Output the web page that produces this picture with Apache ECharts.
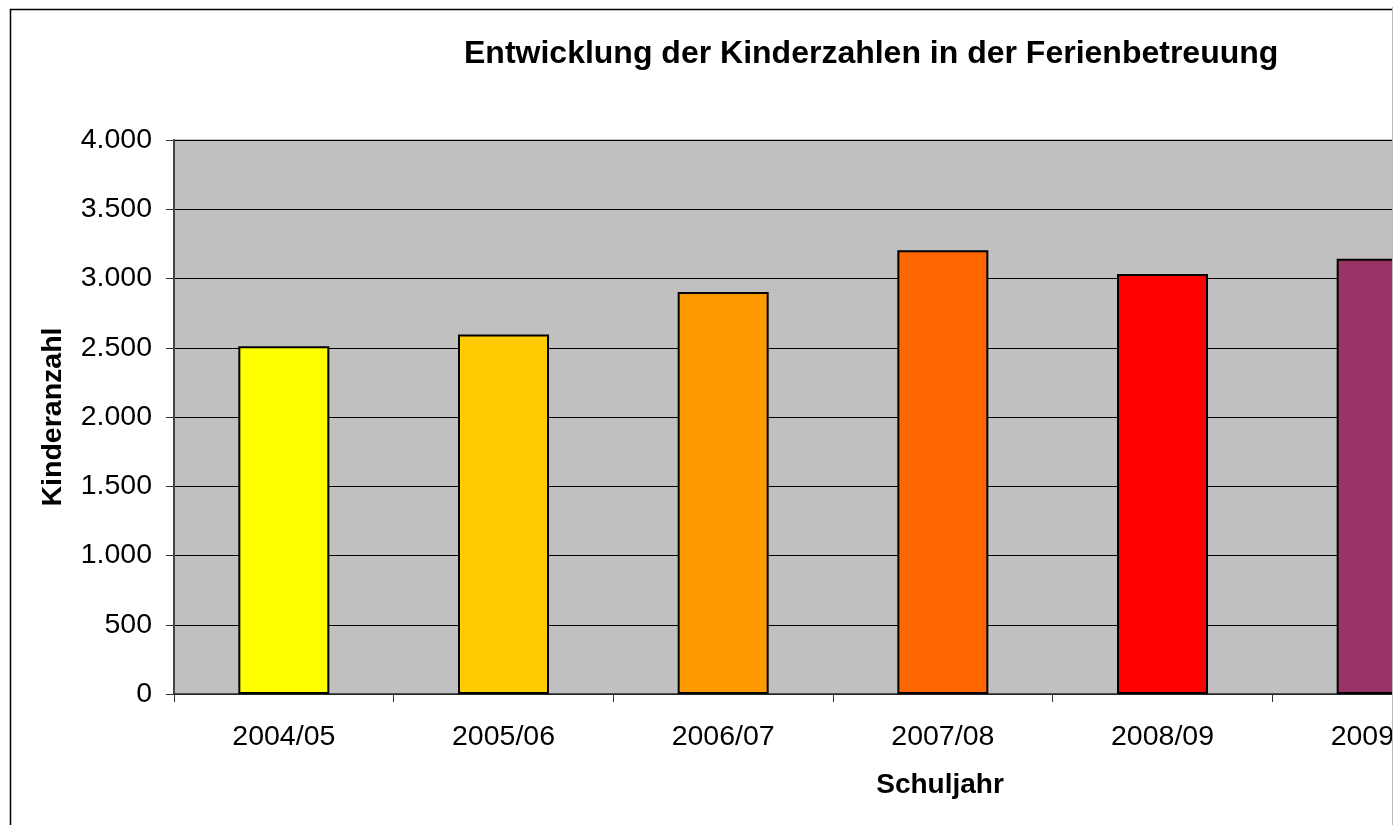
<!DOCTYPE html>
<html>
<head>
<meta charset="utf-8">
<title>Entwicklung der Kinderzahlen in der Ferienbetreuung</title>
<script src="https://cdn.jsdelivr.net/npm/echarts@6/dist/echarts.min.js"></script>
<style>
  html, body { margin: 0; padding: 0; background: #fff; }
  #chart { width: 1393px; height: 825px; }
</style>
</head>
<body>
<div id="chart"></div>
<script>
// Schuljahre und Kinderzahlen
const categories = ["2004/05", "2005/06", "2006/07", "2007/08", "2008/09", "2009/10"];
const kinder = [2511, 2596, 2903, 3204, 3033, 3143];
const barColors = ["#FFFF00", "#FFCC00", "#FF9900", "#FF6600", "#FF0000", "#993366"];
const yMax = 4000;
const yStep = 500;

const font = "Arial, 'Liberation Sans', sans-serif";

// deutsche Tausendertrennung: 4000 -> 4.000
function fmt(v) {
  return String(v).replace(/\B(?=(\d{3})+(?!\d))/g, ".");
}

const chart = echarts.init(document.getElementById("chart"));

const options = {
  backgroundColor: "#fff",
  animation: false,
  title: {
    text: "Entwicklung der Kinderzahlen in der Ferienbetreuung",
    left: 459,
    top: 33,
    textStyle: { fontFamily: font, fontSize: 32, fontWeight: "bold", color: "#000" }
  },
  grid: {
    left: 174,
    top: 140,
    bottom: 131,
    width: 1318,
    outerBoundsMode: "none",
    containLabel: false,
    show: true,
    backgroundColor: "#C0C0C0",
    borderColor: "#888",
    borderWidth: 1
  },
  xAxis: {
    type: "category",
    data: categories,
    name: "Schuljahr",
    nameLocation: "middle",
    nameGap: 77,
    nameTextStyle: {
      fontFamily: font, fontSize: 28, fontWeight: "bold", color: "#000",
      padding: [0, 0, 0, 214]
    },
    axisLine: { show: true, lineStyle: { color: "#333", width: 1.5 } },
    axisTick: { show: true, alignWithLabel: false, length: 8, lineStyle: { color: "#333" } },
    axisLabel: { fontFamily: font, fontSize: 28.5, color: "#000", margin: 29 },
    splitLine: { show: false }
  },
  yAxis: {
    type: "value",
    min: 0,
    max: yMax,
    interval: yStep,
    name: "Kinderanzahl",
    nameLocation: "middle",
    nameGap: 106,
    nameTextStyle: { fontFamily: font, fontSize: 28.5, fontWeight: "bold", color: "#000" },
    axisLine: { show: true, lineStyle: { color: "#444", width: 2 } },
    axisTick: { show: true, length: 8, lineStyle: { color: "#333" } },
    axisLabel: {
      fontFamily: font, fontSize: 28.5, color: "#000", margin: 22,
      formatter: fmt
    },
    splitLine: { show: true, lineStyle: { color: "#000", width: 1 } }
  },
  series: [
    {
      name: "Kinderanzahl",
      type: "bar",
      barWidth: 91,
      data: kinder.map((v, i) => ({
        value: v,
        itemStyle: { color: barColors[i] }
      })),
      itemStyle: { borderColor: "#000", borderWidth: 2 }
    }
  ],
  graphic: [
    {
      type: "rect",
      left: 8,
      top: 7,
      shape: { width: 1600, height: 1000 },
      style: { fill: "none", stroke: "#000", lineWidth: 1.5 },
      silent: true,
      z: 100
    },
    {
      type: "line",
      shape: { x1: 1392.5, y1: 7, x2: 1392.5, y2: 825 },
      style: { stroke: "#bbb", lineWidth: 1 },
      silent: true,
      z: 100
    }
  ]
};

chart.setOption(options);
</script>
</body>
</html>
